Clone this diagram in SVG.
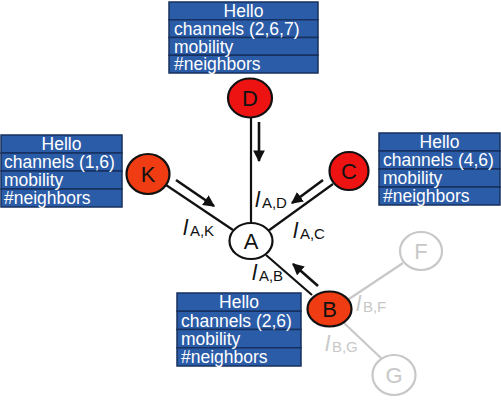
<svg xmlns="http://www.w3.org/2000/svg" width="501" height="410" viewBox="0 0 501 410">
<defs>
<style>
.box rect{fill:#2b5ca8;stroke:#17305e;stroke-width:1.5}
.box text{fill:#fff;font-family:"Liberation Sans",Arial,sans-serif;font-size:17.5px}
.node ellipse{stroke:#111;stroke-width:2.2}
.node text{font-family:"Liberation Sans",Arial,sans-serif;font-size:22px;text-anchor:middle;fill:#111}
.gray ellipse{fill:#fff;stroke:#c8c8c8;stroke-width:2.2}
.gray text{fill:#c8c8c8}
.edge{stroke:#111;stroke-width:2.2;fill:none}
.gedge{stroke:#c8c8c8;stroke-width:2.2;fill:none}
.arr{stroke:#111;stroke-width:2.6;fill:none;marker-end:url(#ah)}
.lbl{font-family:"Liberation Sans",Arial,sans-serif;fill:#111}
.lbl .l{font-style:italic;font-size:22px}
.lbl .s{font-size:15px}
.glbl{fill:#c8c8c8}
</style>
<marker id="ah" viewBox="0 0 10 10" refX="9" refY="5" markerWidth="4.5" markerHeight="4.5" orient="auto" markerUnits="strokeWidth">
<path d="M0,0 L10,5 L0,10 z" fill="#111"/>
</marker>
</defs>
<rect width="501" height="410" fill="#fff"/>

<g id="connectors">
<line class="edge" x1="251" y1="117" x2="251" y2="223"/>
<line class="edge" x1="166" y1="185" x2="233" y2="230"/>
<line class="edge" x1="333" y1="184" x2="268" y2="231"/>
<line class="edge" x1="312" y1="295" x2="266" y2="255"/>
<line class="gedge" x1="349" y1="299" x2="403" y2="263"/>
<line class="gedge" x1="344" y1="323" x2="382" y2="359"/>
<line class="arr" x1="259" y1="122" x2="259" y2="161"/>
<line class="arr" x1="176" y1="180" x2="214" y2="206"/>
<line class="arr" x1="323" y1="180" x2="292" y2="203"/>
<line class="arr" x1="318" y1="286" x2="293" y2="264"/>
</g>

<g id="labels">
<text class="lbl" x="255" y="207"><tspan class="l">l</tspan><tspan class="s" dx="2" dy="1">A,D</tspan></text>
<text class="lbl" x="183" y="235"><tspan class="l">l</tspan><tspan class="s" dx="2" dy="1">A,K</tspan></text>
<text class="lbl" x="293" y="238"><tspan class="l">l</tspan><tspan class="s" dx="2" dy="1">A,C</tspan></text>
<text class="lbl" x="252" y="280"><tspan class="l">l</tspan><tspan class="s" dx="2" dy="1">A,B</tspan></text>
<text class="lbl glbl" x="356" y="311"><tspan class="l">l</tspan><tspan class="s" dx="2" dy="1">B,F</tspan></text>
<text class="lbl glbl" x="325" y="351"><tspan class="l">l</tspan><tspan class="s" dx="2" dy="1">B,G</tspan></text>
</g>

<g id="box-D" class="box">
<rect x="169" y="2" width="149" height="17.75"/>
<rect x="169" y="19.75" width="149" height="17.75"/>
<rect x="169" y="37.5" width="149" height="17.75"/>
<rect x="169" y="55.25" width="149" height="17.75"/>
<text x="243.5" y="17" text-anchor="middle">Hello</text>
<text x="174" y="34.5">channels (2,6,7)</text>
<text x="174" y="52.5">mobility</text>
<text x="174" y="70">#neighbors</text>
</g>

<g id="box-K" class="box">
<rect x="1" y="135" width="121" height="18"/>
<rect x="1" y="153" width="121" height="18"/>
<rect x="1" y="171" width="121" height="18"/>
<rect x="1" y="189" width="121" height="18"/>
<text x="61.5" y="150" text-anchor="middle">Hello</text>
<text x="4" y="168">channels (1,6)</text>
<text x="4" y="186">mobility</text>
<text x="4" y="204">#neighbors</text>
</g>

<g id="box-C" class="box">
<rect x="379" y="133" width="121" height="18"/>
<rect x="379" y="151" width="121" height="18"/>
<rect x="379" y="169" width="121" height="18"/>
<rect x="379" y="187" width="121" height="18"/>
<text x="439.5" y="148" text-anchor="middle">Hello</text>
<text x="383" y="166">channels (4,6)</text>
<text x="383" y="184">mobility</text>
<text x="383" y="202">#neighbors</text>
</g>

<g id="box-B" class="box">
<rect x="177" y="293" width="124" height="18.25"/>
<rect x="177" y="311.25" width="124" height="18.25"/>
<rect x="177" y="329.5" width="124" height="18.25"/>
<rect x="177" y="347.75" width="124" height="18.25"/>
<text x="239" y="308" text-anchor="middle">Hello</text>
<text x="181" y="326.5">channels (2,6)</text>
<text x="181" y="344.5">mobility</text>
<text x="181" y="363">#neighbors</text>
</g>

<g id="node-D" class="node"><ellipse cx="250" cy="98" rx="22" ry="19.5" fill="#ee1313"/><text x="250" y="106">D</text></g>
<g id="node-K" class="node"><ellipse cx="148" cy="174" rx="21.5" ry="20" fill="#ef3c12"/><text x="148" y="182">K</text></g>
<g id="node-C" class="node"><ellipse cx="349" cy="171" rx="19.5" ry="19" fill="#ee1313"/><text x="349" y="179">C</text></g>
<g id="node-A" class="node"><ellipse cx="251" cy="241" rx="21.5" ry="18" fill="#fff"/><text x="251" y="249">A</text></g>
<g id="node-B" class="node"><ellipse cx="329.5" cy="309" rx="22" ry="17.5" fill="#ef3c12"/><text x="329.5" y="317">B</text></g>
<g id="node-F" class="node gray"><ellipse cx="421" cy="251" rx="21" ry="19"/><text x="421" y="259">F</text></g>
<g id="node-G" class="node gray"><ellipse cx="394" cy="375" rx="21.5" ry="20"/><text x="394" y="383">G</text></g>
</svg>
